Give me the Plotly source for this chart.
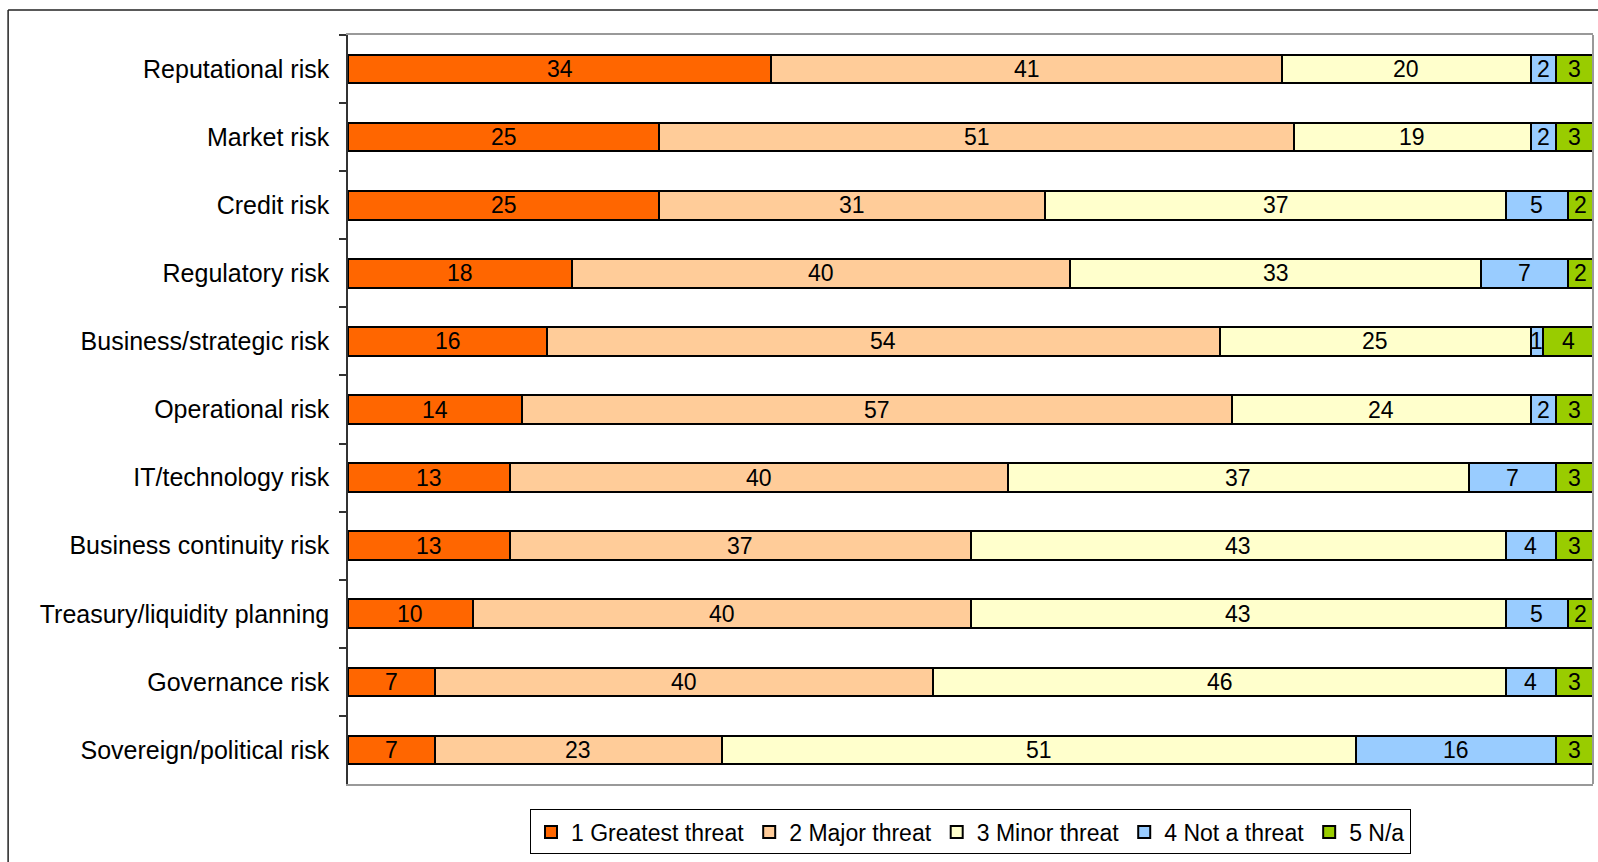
import plotly.graph_objects as go

categories = ["Reputational risk", "Market risk", "Credit risk", "Regulatory risk",
              "Business/strategic risk", "Operational risk", "IT/technology risk",
              "Business continuity risk", "Treasury/liquidity planning",
              "Governance risk", "Sovereign/political risk"]
greatest = [34, 25, 25, 18, 16, 14, 13, 13, 10, 7, 7]
major = [41, 51, 31, 40, 54, 57, 40, 37, 40, 40, 23]
minor = [20, 19, 37, 33, 25, 24, 37, 43, 43, 46, 51]
not_threat = [2, 2, 5, 7, 1, 2, 7, 4, 5, 4, 16]
na = [3, 3, 2, 2, 4, 3, 3, 3, 2, 3, 3]

series_names = ["1 Greatest threat", "2 Major threat", "3 Minor threat", "4 Not a threat", "5 N/a"]
series_values = [greatest, major, minor, not_threat, na]
colors = ["#FF6600", "#FFCC99", "#FFFFCC", "#99CCFF", "#99CC00"]

FONT = "Liberation Sans, Arial, sans-serif"

fig = go.Figure()
annotations = []
cum = [0] * len(categories)
for name, vals, col in zip(series_names, series_values, colors):
    fig.add_trace(go.Bar(
        y=categories, x=vals, name=name, orientation="h",
        marker=dict(color=col, line=dict(color="#000000", width=2)),
        hoverinfo="x+y+name",
    ))
    for i, (c, v) in enumerate(zip(categories, vals)):
        annotations.append(dict(
            x=cum[i] + v / 2, y=c, xref="x", yref="y", text=str(v),
            showarrow=False, font=dict(family=FONT, size=23, color="#000000"),
        ))
        cum[i] += v

# outer frame lines (top and left)
shapes = [
    dict(type="line", xref="paper", yref="paper", x0=-0.273, x1=1.05, y0=1.0334, y1=1.0334,
         line=dict(color="#222222", width=1.5)),
    dict(type="line", xref="paper", yref="paper", x0=-0.273, x1=-0.273, y0=1.0334, y1=-0.2,
         line=dict(color="#222222", width=1.5)),
    dict(type="line", xref="paper", yref="paper", x0=1, x1=1, y0=0, y1=1,
         line=dict(color="#999999", width=2)),
]

fig.update_layout(
    barmode="stack",
    bargap=0.58,
    width=1598, height=862,
    margin=dict(l=348, r=5, t=35, b=78),
    paper_bgcolor="white", plot_bgcolor="white",
    font=dict(family=FONT, size=24, color="#000000"),
    showlegend=True,
    legend=dict(
        orientation="h", x=0.5, xanchor="center", y=-0.034, yanchor="top",
        bordercolor="#000000", borderwidth=1,
        font=dict(family=FONT, size=23, color="#000000"),
        traceorder="normal", itemwidth=30,
    ),
    annotations=annotations,
    shapes=shapes,
)
fig.update_xaxes(range=[0, 100], showticklabels=False, showgrid=False, zeroline=False,
                 showline=True, linecolor="#999999", linewidth=2, mirror=True, ticks="")
fig.update_yaxes(autorange="reversed", showgrid=False, showline=True, linecolor="#333333",
                 linewidth=1.5, ticks="outside", tickson="boundaries", ticklen=7,
                 tickcolor="#333333", tickwidth=1.5, ticklabelstandoff=12,
                 tickfont=dict(family=FONT, size=25, color="#000000"))

fig.write_html("out.html")
